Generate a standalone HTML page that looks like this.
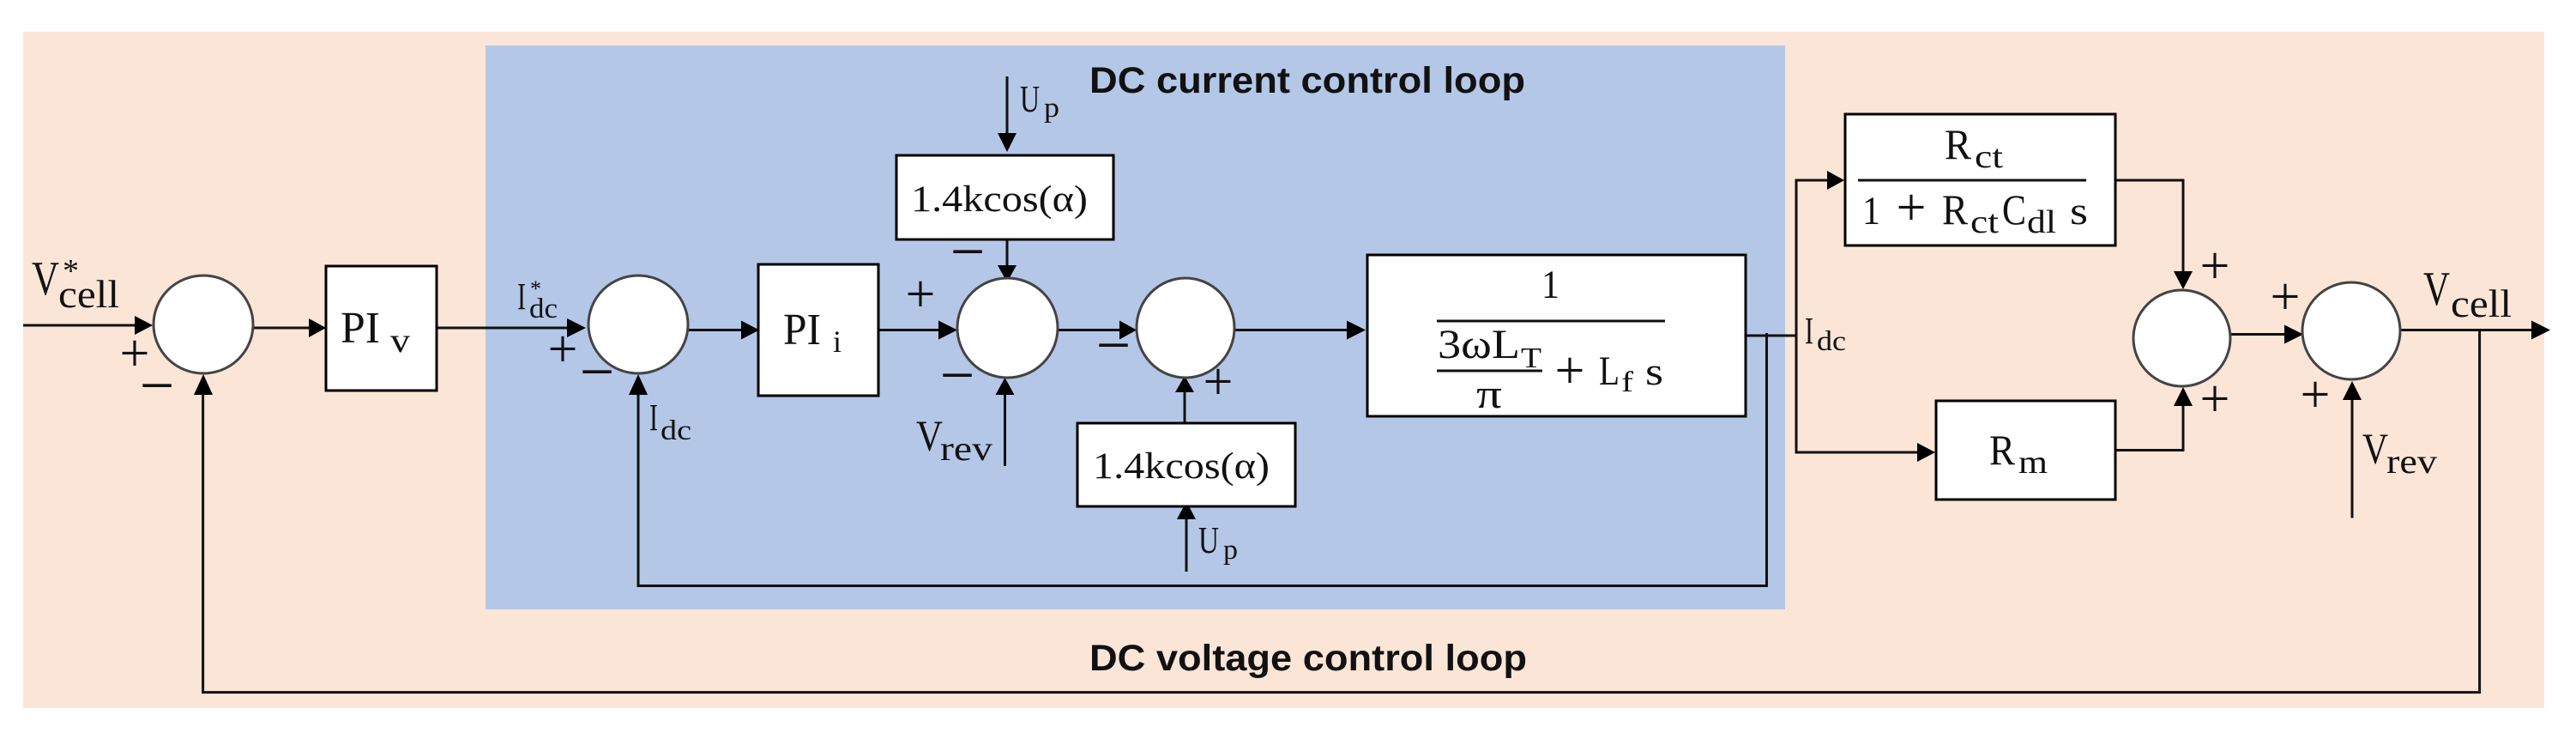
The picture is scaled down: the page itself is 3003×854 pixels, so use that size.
<!DOCTYPE html>
<html>
<head>
<meta charset="utf-8">
<style>
html,body{margin:0;padding:0;background:#fff}
svg{display:block}
.l{fill:none;stroke:#111;stroke-width:3}
.b{fill:#fff;stroke:#000;stroke-width:3}
.c{fill:#fff;stroke:#444;stroke-width:3}
.a{fill:#000;stroke:none}
text{font-family:"Liberation Serif",serif;fill:#111}
.h{font-family:"Liberation Sans",sans-serif;font-weight:bold;font-size:43px}
.p{font-size:62px;text-anchor:middle}
.m{font-size:72px;text-anchor:middle}
</style>
</head>
<body>
<svg width="3003" height="854" viewBox="0 0 3003 854" xmlns="http://www.w3.org/2000/svg">
<rect x="0" y="0" width="3003" height="854" fill="#fff"/>
<rect x="27" y="37" width="2939" height="788" fill="#FBE5D6"/>
<rect x="566" y="53" width="1515" height="657" fill="#B4C7E7"/>

<!-- connectors -->
<path class="l" d="M27 379H160"/>
<path class="l" d="M295 382H362"/>
<path class="l" d="M509 382H664"/>
<path class="l" d="M802 384.5H866"/>
<path class="l" d="M1024 384.5H1096"/>
<path class="l" d="M1233 384.5H1307"/>
<path class="l" d="M1439 384.5H1572"/>
<path class="l" d="M1174 89V157"/>
<path class="l" d="M1174 279V311"/>
<path class="l" d="M1171.5 543V458"/>
<path class="l" d="M1381 493V455"/>
<path class="l" d="M1383 666V603"/>
<path class="l" d="M2035 391H2094"/>
<path class="l" d="M2059.5 388V682.5H744V458"/>
<path class="l" d="M2132 210H2094V527H2237"/>
<path class="l" d="M2466 210H2545V318"/>
<path class="l" d="M2466 524.5H2545V471"/>
<path class="l" d="M2600 389.5H2665"/>
<path class="l" d="M2798 384.5H2953"/>
<path class="l" d="M2890.6 384.5V806.6H236.6V458"/>
<path class="l" d="M2742 603.5V464"/>

<!-- arrowheads -->
<polygon class="a" points="178,379 157,368 157,390"/>
<polygon class="a" points="380,382 360,371 360,393"/>
<polygon class="a" points="683,382 661,371 661,393"/>
<polygon class="a" points="885,384.5 864,373.5 864,395.5"/>
<polygon class="a" points="1116,384.5 1094,373.5 1094,395.5"/>
<polygon class="a" points="1325,384.5 1305,373.5 1305,395.5"/>
<polygon class="a" points="1592,384.5 1570,373.5 1570,395.5"/>
<polygon class="a" points="2150,210 2130,199 2130,221"/>
<polygon class="a" points="2256,527 2235,516 2235,538"/>
<polygon class="a" points="2685,389.5 2663,378.5 2663,400.5"/>
<polygon class="a" points="2973,384.5 2951,373.5 2951,395.5"/>
<polygon class="a" points="1174,177 1163,155 1185,155"/>
<polygon class="a" points="1174,329 1163,309 1185,309"/>
<polygon class="a" points="237,436 226,460 248,460"/>
<polygon class="a" points="744,436 733,460 755,460"/>
<polygon class="a" points="1171.5,440 1160.5,460 1182.5,460"/>
<polygon class="a" points="1381,438 1370,457 1392,457"/>
<polygon class="a" points="1383,584 1372,605 1394,605"/>
<polygon class="a" points="2545,337 2534,316 2556,316"/>
<polygon class="a" points="2545,451 2534,473 2556,473"/>
<polygon class="a" points="2742,444 2731,466 2753,466"/>

<!-- boxes -->
<rect class="b" x="380" y="310" width="129" height="145"/>
<rect class="b" x="884" y="308" width="140" height="153"/>
<rect class="b" x="1045" y="181" width="253" height="98"/>
<rect class="b" x="1256" y="493" width="254" height="97"/>
<rect class="b" x="1594" y="297" width="441" height="188"/>
<rect class="b" x="2151" y="133" width="315" height="153"/>
<rect class="b" x="2257" y="467" width="209" height="115"/>

<!-- circles -->
<ellipse class="c" cx="237" cy="378" rx="58" ry="57"/>
<ellipse class="c" cx="744" cy="378" rx="58" ry="57"/>
<ellipse class="c" cx="1174.5" cy="382" rx="58.5" ry="58"/>
<ellipse class="c" cx="1382" cy="382" rx="57" ry="58"/>
<ellipse class="c" cx="2543.5" cy="394" rx="56.5" ry="56"/>
<ellipse class="c" cx="2741" cy="385.5" rx="57" ry="56.5"/>

<!-- fraction bars -->
<path class="l" d="M1675 374H1941"/>
<path class="l" d="M1675 432H1798"/>
<path class="l" d="M2166 210H2432"/>

<!-- headings -->
<text class="h" x="1270" y="108" textLength="508" lengthAdjust="spacingAndGlyphs">DC current control loop</text>
<text class="h" x="1270" y="781" textLength="510" lengthAdjust="spacingAndGlyphs">DC voltage control loop</text>

<!-- signals -->
<text x="37" y="343" font-size="56" textLength="32" lengthAdjust="spacingAndGlyphs">V</text>
<text x="73" y="328" font-size="38">*</text>
<text x="68" y="358" font-size="46" textLength="71" lengthAdjust="spacingAndGlyphs">cell</text>

<text x="397" y="399" font-size="52" textLength="46" lengthAdjust="spacingAndGlyphs">PI</text>
<text x="455" y="410" font-size="40" textLength="23" lengthAdjust="spacingAndGlyphs">v</text>

<text x="603" y="360" font-size="44" textLength="10" lengthAdjust="spacingAndGlyphs">I</text>
<text x="618" y="345" font-size="26">*</text>
<text x="617" y="370" font-size="33" textLength="33" lengthAdjust="spacingAndGlyphs">dc</text>

<text x="757" y="501" font-size="44" textLength="10" lengthAdjust="spacingAndGlyphs">I</text>
<text x="770" y="512" font-size="33" textLength="36" lengthAdjust="spacingAndGlyphs">dc</text>

<text x="913" y="401" font-size="52" textLength="44" lengthAdjust="spacingAndGlyphs">PI</text>
<text x="971" y="410" font-size="36" textLength="10" lengthAdjust="spacingAndGlyphs">i</text>

<text x="1189" y="130" font-size="44" textLength="23" lengthAdjust="spacingAndGlyphs">U</text>
<text x="1217" y="136" font-size="33" textLength="18" lengthAdjust="spacingAndGlyphs">p</text>

<text x="1062" y="246" font-size="43" textLength="206" lengthAdjust="spacingAndGlyphs">1.4kcos(α)</text>
<text x="1274" y="557" font-size="43" textLength="206" lengthAdjust="spacingAndGlyphs">1.4kcos(α)</text>

<text x="1068" y="525" font-size="51" textLength="31" lengthAdjust="spacingAndGlyphs">V</text>
<text x="1096" y="536" font-size="40" textLength="61" lengthAdjust="spacingAndGlyphs">rev</text>

<text x="1397" y="644" font-size="44" textLength="24" lengthAdjust="spacingAndGlyphs">U</text>
<text x="1426" y="651" font-size="33" textLength="17" lengthAdjust="spacingAndGlyphs">p</text>

<text x="1797" y="347" font-size="47" textLength="21" lengthAdjust="spacingAndGlyphs">1</text>
<text x="1676" y="417" font-size="48" textLength="96" lengthAdjust="spacingAndGlyphs">3ωL</text>
<text x="1773" y="428" font-size="34" textLength="24" lengthAdjust="spacingAndGlyphs">T</text>
<text x="1721" y="475" font-size="48" textLength="30" lengthAdjust="spacingAndGlyphs">π</text>
<text class="p" x="1830" y="452">+</text>
<text x="1864" y="448" font-size="48" textLength="24" lengthAdjust="spacingAndGlyphs">L</text>
<text x="1890" y="456" font-size="34" textLength="14" lengthAdjust="spacingAndGlyphs">f</text>
<text x="1918" y="448" font-size="46" textLength="21" lengthAdjust="spacingAndGlyphs">s</text>

<text x="2104" y="400" font-size="44" textLength="10" lengthAdjust="spacingAndGlyphs">I</text>
<text x="2118" y="408" font-size="33" textLength="34" lengthAdjust="spacingAndGlyphs">dc</text>

<text x="2267" y="185" font-size="50" textLength="31" lengthAdjust="spacingAndGlyphs">R</text>
<text x="2302" y="195" font-size="38" textLength="33" lengthAdjust="spacingAndGlyphs">ct</text>
<text x="2171" y="261" font-size="47" textLength="21" lengthAdjust="spacingAndGlyphs">1</text>
<text class="p" x="2228" y="262">+</text>
<text x="2264" y="261" font-size="50" textLength="30" lengthAdjust="spacingAndGlyphs">R</text>
<text x="2297" y="271" font-size="38" textLength="33" lengthAdjust="spacingAndGlyphs">ct</text>
<text x="2334" y="261" font-size="50" textLength="28" lengthAdjust="spacingAndGlyphs">C</text>
<text x="2363" y="271" font-size="38" textLength="34" lengthAdjust="spacingAndGlyphs">dl</text>
<text x="2413" y="261" font-size="46" textLength="21" lengthAdjust="spacingAndGlyphs">s</text>

<text x="2319" y="541" font-size="50" textLength="30" lengthAdjust="spacingAndGlyphs">R</text>
<text x="2353" y="551" font-size="38" textLength="34" lengthAdjust="spacingAndGlyphs">m</text>

<text x="2825" y="355" font-size="56" textLength="31" lengthAdjust="spacingAndGlyphs">V</text>
<text x="2857" y="369" font-size="46" textLength="71" lengthAdjust="spacingAndGlyphs">cell</text>

<text x="2754" y="540" font-size="51" textLength="30" lengthAdjust="spacingAndGlyphs">V</text>
<text x="2782" y="551" font-size="40" textLength="59" lengthAdjust="spacingAndGlyphs">rev</text>

<!-- plus signs -->
<text class="p" x="157" y="432">+</text>
<text class="p" x="656" y="427">+</text>
<text class="p" x="1073" y="363">+</text>
<text class="p" x="1420" y="465">+</text>
<text class="p" x="2582" y="330">+</text>
<text class="p" x="2582" y="485">+</text>
<text class="p" x="2664" y="366">+</text>
<text class="p" x="2699" y="480">+</text>

<!-- minus signs -->
<text class="m" x="183" y="473">−</text>
<text class="m" x="696" y="457">−</text>
<text class="m" x="1128" y="317">−</text>
<text class="m" x="1116" y="461">−</text>
<text class="m" x="1298" y="426">−</text>
</svg>
</body>
</html>
